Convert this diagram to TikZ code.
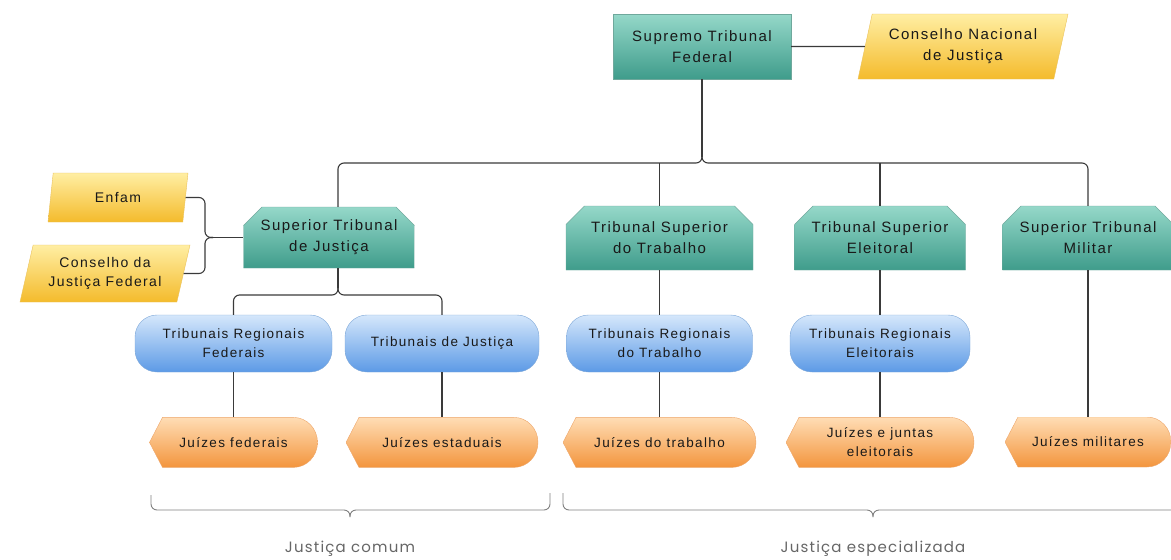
\documentclass[tikz,border=0pt]{standalone}
\usepackage{fontspec}
\setmainfont{Liberation Sans}[LetterSpace=10.0]
\newfontfamily\bracefont{Poppins}[LetterSpace=8.0]
\usepackage{tikz}
\usetikzlibrary{positioning,calc,shapes.geometric,shapes.misc}

\definecolor{tealTop}{HTML}{95D8C9}
\definecolor{tealBot}{HTML}{3F9C8B}
\definecolor{tealLine}{HTML}{6FA89C}
\definecolor{goldTop}{HTML}{FFEEA3}
\definecolor{goldBot}{HTML}{F4BB2C}
\definecolor{goldLine}{HTML}{EAC25C}
\definecolor{skyTop}{HTML}{D5E7FB}
\definecolor{skyBot}{HTML}{5C9AE6}
\definecolor{skyLine}{HTML}{7FA8D8}
\definecolor{peachTop}{HTML}{FFDDB5}
\definecolor{peachBot}{HTML}{F3953D}
\definecolor{peachLine}{HTML}{EDA66A}
\definecolor{lineGray}{HTML}{3A3A3A}

\begin{document}
\begin{tikzpicture}[x=1pt, y=-1pt,
            every node/.style={align=center, text=black!90, inner sep=2pt,
                font=\fontsize{15}{21}\selectfont},
            court/.style={draw=tealLine, top color=tealTop, bottom color=tealBot},
            topcourt/.style={court, chamfered rectangle,
                chamfered rectangle corners={north west,north east},
                chamfered rectangle xsep=15pt},
            council/.style={trapezium, trapezium left angle=70,
                trapezium right angle=110, trapezium stretches body,
                draw=goldLine, top color=goldTop, bottom color=goldBot},
            regional/.style={rectangle, rounded corners=22pt, draw=skyLine,
                top color=skyTop, bottom color=skyBot, minimum height=57pt,
                font=\fontsize{13.5}{19}\selectfont},
            judges/.style={minimum height=50pt, font=\fontsize{13.5}{19}\selectfont,
                path picture={
                  \shade[top color=peachTop, bottom color=peachBot, draw=peachLine]
                    (path picture bounding box.west)
                    -- ([xshift=13pt]path picture bounding box.north west)
                    -- ([xshift=-24pt]path picture bounding box.north east)
                    arc[start angle=90, end angle=-90, x radius=24pt, y radius=25pt]
                    -- ([xshift=13pt]path picture bounding box.south west) -- cycle;
                }},
            link/.style={draw=lineGray, line width=1.1pt, rounded corners=6pt},
            groupbrace/.style={draw=black!50, line width=0.9pt, rounded corners=6pt},
            grouptext/.style={font=\bracefont\fontsize{15}{18}\selectfont, text=black!60}]
        \useasboundingbox (0,0) rectangle (1171,560);

        % top level
        \node[court, minimum width=178pt, minimum height=65pt] (nodeSTF) at (702,46.5)
            {Supremo Tribunal\\Federal};
        \node[council, minimum width=210pt, minimum height=65pt] (nodeCNJ) at (963,46.5)
            {Conselho Nacional\\de Justiça};
        \draw[link] (nodeSTF.east) -- (nodeCNJ.west);

        % superior courts
        \node[topcourt, minimum width=168pt, minimum height=61pt] (nodeSTJ) at (329,237.5)
            {Superior Tribunal\\de Justiça};
        \node[topcourt, minimum width=187pt, minimum height=64pt] (nodeTST) at (659.5,238)
            {Tribunal Superior\\do Trabalho};
        \node[topcourt, minimum width=166pt, minimum height=64pt] (nodeTSE) at (880,238)
            {Tribunal Superior\\Eleitoral};
        \node[topcourt, minimum width=161pt, minimum height=64pt] (nodeSTM) at (1088,238)
            {Superior Tribunal\\Militar};

        \node[council, minimum width=140pt, minimum height=49pt,
              font=\fontsize{14}{19}\selectfont] (nodeENF) at (118,197.5) {Enfam};
        \node[council, minimum width=170pt, minimum height=57pt,
              font=\fontsize{14}{19}\selectfont] (nodeCJF) at (105,273.5)
            {Conselho da\\Justiça Federal};

        % regional courts and judges
        \node[regional, minimum width=197pt] (nodeTRF) at (233.5,343.5)
            {Tribunais Regionais\\Federais};
        \node[regional, minimum width=194pt] (nodeTJ) at (442,343.5)
            {Tribunais de Justiça};
        \node[regional, minimum width=186pt] (nodeTRT) at (659.5,343.5)
            {Tribunais Regionais\\do Trabalho};
        \node[regional, minimum width=180pt] (nodeTRE) at (880,343.5)
            {Tribunais Regionais\\Eleitorais};

        \node[judges, minimum width=168pt, below=45pt of nodeTRF] (nodeJF) {Juízes federais};
        \node[judges, minimum width=192pt, below=45pt of nodeTJ] (nodeJE) {Juízes estaduais};
        \node[judges, minimum width=193pt, below=45pt of nodeTRT] (nodeJT) {Juízes do trabalho};
        \node[judges, minimum width=188pt, below=45pt of nodeTRE] (nodeJJE)
            {Juízes e juntas\\eleitorais};
        \node[judges, minimum width=166pt] (nodeJM) at (1088,442) {Juízes militares};

        % STF bus
        \coordinate (tipSTF) at (702,157);
        \draw[link] (nodeSTF.south) -- (tipSTF);
        \draw[link] (tipSTF) -- (702,163) -- (338,163) -- ([xshift=9pt]nodeSTJ.north);
        \draw[link] (tipSTF) -- (702,163) -- (nodeSTM.north |- 0,163) -- (nodeSTM.north);
        \draw[link] (nodeTST.north) -- (nodeTST.north |- 0,163);
        \draw[link] (nodeTSE.north) -- (nodeTSE.north |- 0,163);

        % councils beside STJ
        \coordinate (tipSide) at (213,237.5);
        \draw[link] (nodeENF.east) -| (205,237.5) -- (tipSide);
        \draw[link] (nodeCJF.east) -| (205,237.5) -- (tipSide);
        \draw[link] (tipSide) -- (nodeSTJ.west);

        % below STJ
        \coordinate (tipSTJ) at (338,288);
        \draw[link] ([xshift=9pt]nodeSTJ.south) -- (tipSTJ);
        \draw[link] (tipSTJ) -- (338,295) -| (nodeTRF.north);
        \draw[link] (tipSTJ) -- (338,295) -| (nodeTJ.north);

        \draw[link] (nodeTST.south) -- (nodeTRT.north);
        \draw[link] (nodeTSE.south) -- (nodeTRE.north);
        \draw[link] (nodeSTM.south) -- (nodeJM.north);
        \draw[link] (nodeTRF.south) -- (nodeJF.north);
        \draw[link] (nodeTJ.south) -- (nodeJE.north);
        \draw[link] (nodeTRT.south) -- (nodeJT.north);
        \draw[link] (nodeTRE.south) -- (nodeJJE.north);

        % groups
        \coordinate (tipComum) at (350,517);
        \draw[groupbrace] (151,495) -- (151,510) -- (350,510) -- (tipComum);
        \draw[groupbrace] (550,493) -- (550,510) -- (350,510) -- (tipComum);
        \node[grouptext] (nodeComum) at (350,549) {Justiça comum};

        \coordinate (tipEspec) at (873,517);
        \draw[groupbrace] (563,493) -- (563,510) -- (873,510) -- (tipEspec);
        \draw[groupbrace] (1171,510) -- (873,510) -- (tipEspec);
        \node[grouptext] (nodeEspec) at (873,549) {Justiça especializada};
\end{tikzpicture}
\end{document}
